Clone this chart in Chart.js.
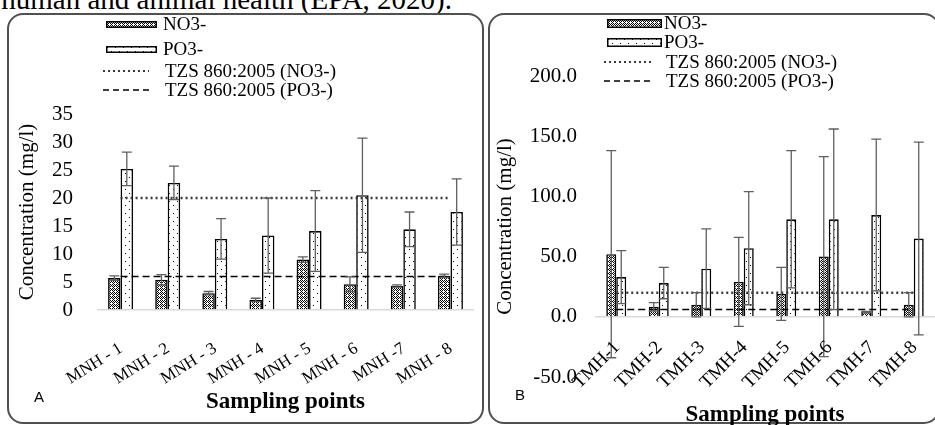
<!DOCTYPE html>
<html>
<head>
<meta charset="utf-8">
<script src="https://cdn.jsdelivr.net/npm/chart.js@4.4.1/dist/chart.umd.min.js"></script>
<style>
    html, body { margin: 0; padding: 0; width: 935px; height: 425px; overflow: hidden; background: #fff; }
    body { position: relative; font-family: 'Liberation Serif', 'Times New Roman', serif; color: #000; }
    .top-text { position: absolute; right: 483px; top: -15px; font-size: 29px; line-height: 29px; white-space: nowrap; }
    .frame { position: absolute; border: 2px solid #505050; border-radius: 16px; box-sizing: border-box; }
    #frameA { left: 7px; top: 13px; width: 477px; height: 411px; }
    #frameB { left: 488px; top: 13px; width: 452px; height: 411px; }
    .chart-box { position: absolute; top: 0; }
    #boxA { left: 0; width: 485px; height: 425px; }
    #boxB { left: 485px; width: 450px; height: 430px; }
    .leg { position: absolute; display: flex; align-items: center; height: 20px; font-size: 19px; white-space: nowrap; }
    .leg canvas, .leg svg { display: block; }
    .panel-tag { position: absolute; font-family: 'Liberation Sans', Arial, sans-serif; font-size: 15px; }
</style>
</head>
<body>
<div class="top-text">human and animal health (EPA, 2020).</div>
<div class="frame" id="frameA"></div>
<div class="frame" id="frameB"></div>
<div class="chart-box" id="boxA"><canvas id="chartA" width="485" height="425"></canvas></div>
<div class="chart-box" id="boxB"><canvas id="chartB" width="450" height="430"></canvas></div>
<div id="legends"></div>
<div class="panel-tag" style="left:34px; top:388px;">A</div>
<div class="panel-tag" style="left:515px; top:386px;">B</div>

<script>
// Panel A - MNH sampling points
const labelsA = ['MNH - 1', 'MNH - 2', 'MNH - 3', 'MNH - 4', 'MNH - 5', 'MNH - 6', 'MNH -7', 'MNH - 8'];
const no3A = [5.7, 5.4, 3.0, 1.8, 9.0, 4.6, 4.3, 6.1];
const no3AErr = [0.4, 0.9, 0.3, 0.3, 0.5, 1.3, 0.2, 0.3];
const po3A = [25.2, 22.7, 12.7, 13.3, 14.1, 20.5, 14.4, 17.5];
const po3AErr = [3.0, 3.0, 3.6, 6.7, 7.2, 10.2, 3.1, 5.9];
const tzsNo3A = [20, 20, 20, 20, 20, 20, 20, 20];
const tzsPo3A = [6, 6, 6, 6, 6, 6, 6, 6];

// Panel B - TMH sampling points
const labelsB = ['TMH-1', 'TMH-2', 'TMH-3', 'TMH-4', 'TMH-5', 'TMH-6', 'TMH-7', 'TMH-8'];
const no3B = [52, 8.3, 10, 29, 19, 50, 4, 10];
const no3BErr = [86, 3.5, 10, 37, 22, 83, 0.5, 10];
const po3B = [33, 28, 40, 57, 81, 81, 84.5, 65];
const po3BErr = [22, 13, 33, 47, 57, 75, 63, 80];
const tzsNo3B = [20, 20, 20, 20, 20, 20, 20, 20];
const tzsPo3B = [6, 6, 6, 6, 6, 6, 6, 6];

const legendNames = ['NO3-', 'PO3-', 'TZS 860:2005 (NO3-)', 'TZS 860:2005 (PO3-)'];

const SERIF = "'Liberation Serif', 'Times New Roman', serif";

/**
 * Fill patterns that mimic the Excel hatch fills
 */
function makeCrossPattern() {
    const c = document.createElement('canvas');
    c.width = 4; c.height = 4;
    const g = c.getContext('2d');
    g.fillStyle = '#fff';
    g.fillRect(0, 0, 4, 4);
    g.fillStyle = '#000';
    g.fillRect(0, 0, 1, 1); g.fillRect(2, 0, 1, 1);
    g.fillRect(1, 1, 1, 1); g.fillRect(3, 1, 1, 1);
    g.fillRect(0, 2, 1, 1); g.fillRect(2, 2, 1, 1);
    g.fillRect(1, 3, 1, 1);
    return g.createPattern(c, 'repeat');
}

function makeDotPattern() {
    const c = document.createElement('canvas');
    c.width = 8; c.height = 8;
    const g = c.getContext('2d');
    g.fillStyle = '#fff';
    g.fillRect(0, 0, 8, 8);
    g.fillStyle = '#000';
    g.fillRect(1, 1, 1, 1);
    g.fillRect(5, 5, 1, 1);
    return g.createPattern(c, 'repeat');
}

const crossFill = makeCrossPattern();
const dotFill = makeDotPattern();

/**
 * Error bars: drawn from each bar dataset's "errors" array
 */
const errorBarPlugin = {
    id: 'errorBars',
    afterDatasetsDraw(chart) {
        const ctx = chart.ctx;
        const yScale = chart.scales.y;
        chart.data.datasets.forEach((ds, i) => {
            if (!ds.errors) return;
            const meta = chart.getDatasetMeta(i);
            meta.data.forEach((bar, j) => {
                const v = ds.data[j];
                const e = ds.errors[j];
                const yTop = yScale.getPixelForValue(v + e);
                const yBot = yScale.getPixelForValue(v - e);
                ctx.save();
                ctx.strokeStyle = '#5f5f5f';
                ctx.lineWidth = 1.3;
                ctx.beginPath();
                ctx.moveTo(bar.x, yTop); ctx.lineTo(bar.x, yBot);
                ctx.moveTo(bar.x - 5, yTop); ctx.lineTo(bar.x + 5, yTop);
                ctx.moveTo(bar.x - 5, yBot); ctx.lineTo(bar.x + 5, yBot);
                ctx.stroke();
                ctx.restore();
            });
        });
    }
};

/**
 * Category labels hung from the zero line (Excel places them there, not
 * at the bottom of the plot area)
 */
const zeroLabelPlugin = {
    id: 'zeroLabels',
    afterDraw(chart, args, opts) {
        const ctx = chart.ctx;
        const xs = chart.scales.x;
        const y0 = chart.scales.y.getPixelForValue(0) + opts.dy;
        ctx.save();
        ctx.font = opts.size + 'px ' + SERIF;
        ctx.fillStyle = '#000';
        ctx.textAlign = 'right';
        ctx.textBaseline = 'top';
        chart.data.labels.forEach((lab, i) => {
            ctx.save();
            ctx.translate(xs.getPixelForTick(i) + opts.dx, y0);
            ctx.rotate(-opts.angle * Math.PI / 180);
            ctx.fillText(lab, 0, 0);
            ctx.restore();
        });
        ctx.restore();
    }
};

function buildDatasets(no3, no3Err, po3, po3Err, tzsNo3, tzsPo3, catPct) {
    return [
        {
            type: 'line', label: legendNames[2], data: tzsNo3,
            borderColor: '#3a3a3a', borderWidth: 2.5, borderDash: [2, 3],
            pointRadius: 0, fill: false, order: 1
        },
        {
            type: 'line', label: legendNames[3], data: tzsPo3,
            borderColor: '#000', borderWidth: 1.5, borderDash: [7, 4],
            pointRadius: 0, fill: false, order: 1
        },
        {
            type: 'bar', label: legendNames[0], data: no3, errors: no3Err,
            backgroundColor: crossFill, borderColor: '#000', borderWidth: 1.6,
            categoryPercentage: catPct, barPercentage: 1, order: 2
        },
        {
            type: 'bar', label: legendNames[1], data: po3, errors: po3Err,
            backgroundColor: dotFill, borderColor: '#000', borderWidth: 1.6,
            categoryPercentage: catPct, barPercentage: 1, order: 2
        }
    ];
}

function zeroLine(ctx) {
    return ctx.tick && ctx.tick.value === 0 ? '#d9d9d9' : 'rgba(0,0,0,0)';
}

function makeChart(canvasId, cfg) {
    return new Chart(document.getElementById(canvasId), {
        type: 'bar',
        data: {
            labels: cfg.labels,
            datasets: buildDatasets(cfg.no3, cfg.no3Err, cfg.po3, cfg.po3Err, cfg.tzsNo3, cfg.tzsPo3, cfg.catPct)
        },
        options: {
            responsive: false,
            animation: false,
            events: [],
            layout: { padding: cfg.padding },
            scales: {
                x: {
                    grid: { display: false, drawTicks: false, tickLength: 0 },
                    border: { display: false },
                    ticks: { display: false, autoSkip: false },
                    title: {
                        display: true,
                        text: 'Sampling points',
                        color: '#000',
                        font: { family: SERIF, size: 23, weight: 'bold' },
                        padding: { top: 0, bottom: cfg.xTitlePad }
                    },
                    afterFit: s => { s.height = cfg.xHeight; }
                },
                y: {
                    min: cfg.yMin,
                    max: cfg.yMax,
                    grid: { color: zeroLine, lineWidth: 1.5, drawTicks: false },
                    border: { display: false },
                    ticks: {
                        stepSize: cfg.yStep,
                        autoSkip: false,
                        color: '#000',
                        font: { family: SERIF, size: 21 },
                        padding: cfg.yTickPad,
                        callback: cfg.yFormat
                    },
                    title: {
                        display: true,
                        text: 'Concentration (mg/l)',
                        color: '#000',
                        font: { family: SERIF, size: 21 },
                        padding: { top: cfg.yTitlePad, bottom: 0 }
                    },
                    afterFit: s => { s.width = cfg.yWidth; }
                }
            },
            plugins: {
                legend: { display: false },
                tooltip: { enabled: false },
                zeroLabels: cfg.labelPos
            }
        },
        plugins: [errorBarPlugin, zeroLabelPlugin]
    });
}

makeChart('chartA', {
    labels: labelsA, no3: no3A, no3Err: no3AErr, po3: po3A, po3Err: po3AErr,
    tzsNo3: tzsNo3A, tzsPo3: tzsPo3A, catPct: 0.53,
    padding: { left: 0, right: 11, top: 114, bottom: 0 },
    labelPos: { dx: -4, dy: 30, angle: 32, size: 17 },
    xTitlePad: 9, xHeight: 115,
    yMin: 0, yMax: 35, yStep: 5, yTickPad: 24, yTitlePad: 15, yWidth: 97,
    yFormat: v => String(v)
});

makeChart('chartB', {
    labels: labelsB, no3: no3B, no3Err: no3BErr, po3: po3B, po3Err: po3BErr,
    tzsNo3: tzsNo3B, tzsPo3: tzsPo3B, catPct: 0.47,
    padding: { left: 0, right: 0, top: 76, bottom: 0 },
    labelPos: { dx: -6, dy: 21, angle: 45, size: 19 },
    xTitlePad: 1, xHeight: 53,
    yMin: -50, yMax: 200, yStep: 50, yTickPad: 18, yTitlePad: 8, yWidth: 110,
    yFormat: v => Number(v).toFixed(1)
});

/**
 * HTML legends (one item per row, like the original figure)
 */
function addLegend(x, rows, swatchW, swatchH, textX) {
    const host = document.getElementById('legends');
    rows.forEach((cy, i) => {
        const item = document.createElement('div');
        item.className = 'leg';
        const markLeft = i < 2 ? x : x - 3;
        const markW = i < 2 ? swatchW : swatchW - 5;
        item.style.left = markLeft + 'px';
        item.style.top = (cy - 10) + 'px';
        let mark;
        if (i < 2) {
            mark = document.createElement('canvas');
            mark.width = swatchW; mark.height = swatchH;
            const g = mark.getContext('2d');
            g.fillStyle = i === 0 ? crossFill : dotFill;
            g.fillRect(0, 0, swatchW, swatchH);
            g.strokeStyle = '#000';
            g.lineWidth = 1.5;
            g.strokeRect(0.75, 0.75, swatchW - 1.5, swatchH - 1.5);
        } else {
            mark = document.createElementNS('http://www.w3.org/2000/svg', 'svg');
            mark.setAttribute('width', markW);
            mark.setAttribute('height', 6);
            const ln = document.createElementNS('http://www.w3.org/2000/svg', 'line');
            ln.setAttribute('x1', 0); ln.setAttribute('y1', 3);
            ln.setAttribute('x2', markW); ln.setAttribute('y2', 3);
            ln.setAttribute('stroke', i === 2 ? '#3a3a3a' : '#000');
            ln.setAttribute('stroke-width', i === 2 ? 2 : 1.5);
            ln.setAttribute('stroke-dasharray', i === 2 ? '2 3' : '6 4');
            mark.appendChild(ln);
        }
        const txt = document.createElement('span');
        txt.textContent = legendNames[i];
        txt.style.marginLeft = (i < 2 ? textX - markLeft - markW : textX + 2 - markLeft - markW) + 'px';
        item.appendChild(mark);
        item.appendChild(txt);
        host.appendChild(item);
    });
}

addLegend(106, [24, 49, 71, 90], 51, 7, 163);
addLegend(607, [23, 42, 62, 81], 55, 9, 664);
</script>
</body>
</html>
